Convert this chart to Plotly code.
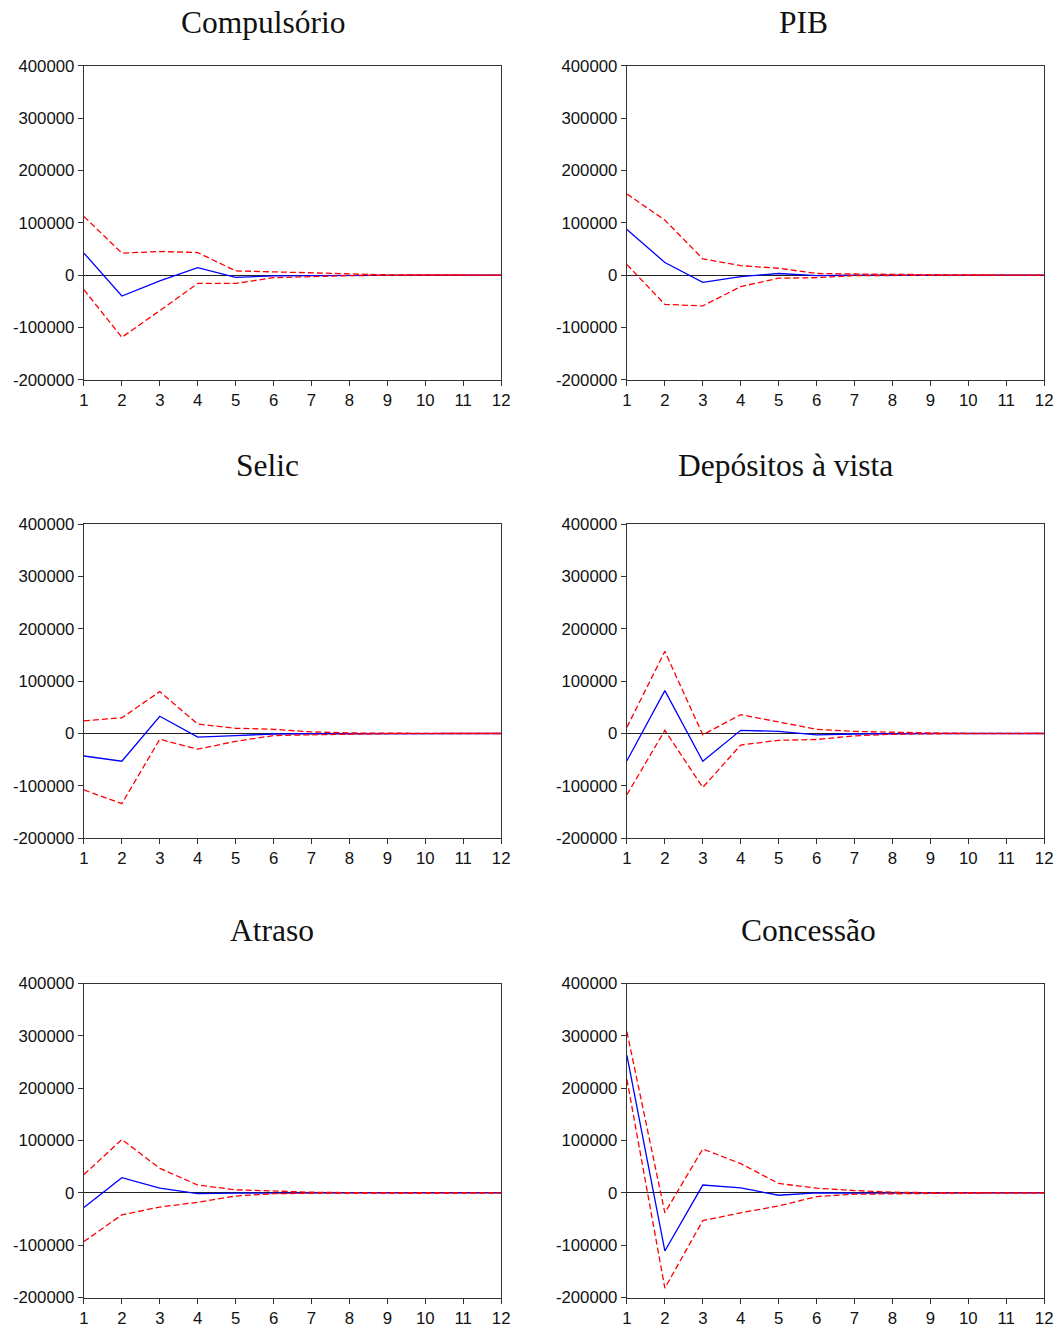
import plotly.graph_objects as go

W, H = 1059, 1328
# observed render mapping (figure px -> screenshot px) compensation
SX, BX = 0.9886, 2.93
SY, BY = 0.9838, 8.02

periods = [1, 2, 3, 4, 5, 6, 7, 8, 9, 10, 11, 12]
titles = ["Compulsório", "PIB", "Selic", "Depósitos à vista", "Atraso", "Concessão"]

# impulse responses (point estimate, upper band, lower band)
comp_resp = [42000, -40000, -11000, 14000, -4500, -1500, -1000, -300, -100, 0, 0, 0]
comp_up = [112000, 42000, 45000, 43000, 8000, 6000, 4000, 2000, 500, 200, 0, 0]
comp_lo = [-28000, -119000, -68000, -16000, -16000, -5000, -3000, -1000, -500, -200, 0, 0]

pib_resp = [87000, 24000, -14000, -3000, 3000, -1000, 0, 0, 0, 0, 0, 0]
pib_up = [155000, 105000, 31000, 18000, 13000, 3000, 2000, 1000, 500, 200, 0, 0]
pib_lo = [20000, -56000, -59000, -22000, -6000, -5000, -1000, -700, -300, -100, 0, 0]

selic_resp = [-43000, -53000, 33000, -7000, -4000, -1000, -500, -200, 0, 0, 0, 0]
selic_up = [24000, 30000, 80000, 18000, 10000, 8000, 3000, 1000, 500, 200, 0, 0]
selic_lo = [-108000, -134000, -11000, -30000, -15000, -4000, -2500, -1000, -400, -100, 0, 0]

dep_resp = [-52000, 82000, -53000, 6000, 4000, -2500, -1000, 0, 0, 0, 0, 0]
dep_up = [12000, 157000, -2500, 36000, 22000, 8000, 4000, 2000, 1000, 300, 0, 0]
dep_lo = [-117000, 6000, -103000, -22000, -13000, -11500, -4500, -1500, -500, -200, 0, 0]

atr_resp = [-28000, 29000, 9000, -1300, -600, 0, 0, 0, 0, 0, 0, 0]
atr_up = [35000, 102000, 47000, 15000, 6000, 3000, 1300, 500, 200, 0, 0, 0]
atr_lo = [-93000, -42000, -27000, -18000, -6000, -1500, -600, -300, -100, 0, 0, 0]

conc_resp = [263000, -111000, 15000, 9500, -4500, 0, -600, -200, 0, 0, 0, 0]
conc_up = [308000, -38000, 84000, 56000, 18000, 9000, 4500, 1300, 500, 200, 0, 0]
conc_lo = [217000, -182000, -53000, -38000, -25000, -7000, -2500, -1300, -500, -200, 0, 0]

y_tickvals = [-200000, -100000, 0, 100000, 200000, 300000, 400000]
y_ticktext = ["-200000", "-100000", "0", "100000", "200000", "300000", "400000"]

panels = [
    (comp_resp, comp_up, comp_lo),
    (pib_resp, pib_up, pib_lo),
    (selic_resp, selic_up, selic_lo),
    (dep_resp, dep_up, dep_lo),
    (atr_resp, atr_up, atr_lo),
    (conc_resp, conc_up, conc_lo),
]

# target pixel boxes of plot areas (screenshot coordinates)
col_x = [(82, 500), (626, 1044)]
row_y = [(65, 380), (525, 840), (986, 1301)]
title_pos = [(262, 22), (803, 22), (266, 466), (785, 466), (270, 933), (808, 933)]


def px(x):
    return ((x - BX) / SX) / W


def py(y):
    return 1 - ((y - BY) / SY) / H


TICK_SIZE = 16.5 / SY
TITLE_SIZE = 31.0 / SY

fig = go.Figure()
layout_axes = {}
annotations = []
for i, (resp, up, lo) in enumerate(panels):
    r, c = divmod(i, 2)
    n = i + 1
    xa = "x" if n == 1 else f"x{n}"
    ya = "y" if n == 1 else f"y{n}"
    fig.add_trace(go.Scatter(x=periods, y=resp, mode="lines",
                             line=dict(color="#0000ff", width=1.3),
                             xaxis=xa, yaxis=ya, showlegend=False))
    for band in (up, lo):
        fig.add_trace(go.Scatter(x=periods, y=band, mode="lines",
                                 line=dict(color="#ff0000", width=1.3, dash="6px,3px"),
                                 xaxis=xa, yaxis=ya, showlegend=False))
    x0, x1 = col_x[c]
    y0, y1 = row_y[r]
    xkey = "xaxis" if n == 1 else f"xaxis{n}"
    ykey = "yaxis" if n == 1 else f"yaxis{n}"
    layout_axes[xkey] = dict(
        domain=[px(x0), px(x1)], anchor=ya, range=[1, 12],
        tickvals=periods, ticktext=[str(p) for p in periods],
        ticks="outside", ticklen=5, tickwidth=1, tickcolor="#333",
        showline=True, linecolor="#333", linewidth=1.3, mirror=True,
        showgrid=False, zeroline=False,
        tickfont=dict(family="Liberation Sans, Arial", size=TICK_SIZE, color="#111"),
    )
    layout_axes[ykey] = dict(
        domain=[py(y1), py(y0)], anchor=xa, range=[-200000, 400000],
        tickvals=y_tickvals, ticktext=y_ticktext,
        ticks="outside", ticklen=5, tickwidth=1, tickcolor="#333",
        showline=True, linecolor="#333", linewidth=1.3, mirror=True,
        showgrid=False, zeroline=True, zerolinecolor="#222", zerolinewidth=1,
        tickfont=dict(family="Liberation Sans, Arial", size=TICK_SIZE, color="#111"),
    )
    tx, ty = title_pos[i]
    annotations.append(dict(
        text=titles[i], x=px(tx), y=py(ty), xref="paper", yref="paper",
        xanchor="center", yanchor="middle", showarrow=False,
        font=dict(family="Liberation Serif, Times New Roman", size=TITLE_SIZE, color="#111"),
    ))

fig.update_layout(
    width=W, height=H,
    margin=dict(l=0, r=0, t=0, b=0),
    paper_bgcolor="white", plot_bgcolor="white",
    annotations=annotations,
    **layout_axes,
)

fig.write_html("out.html")
